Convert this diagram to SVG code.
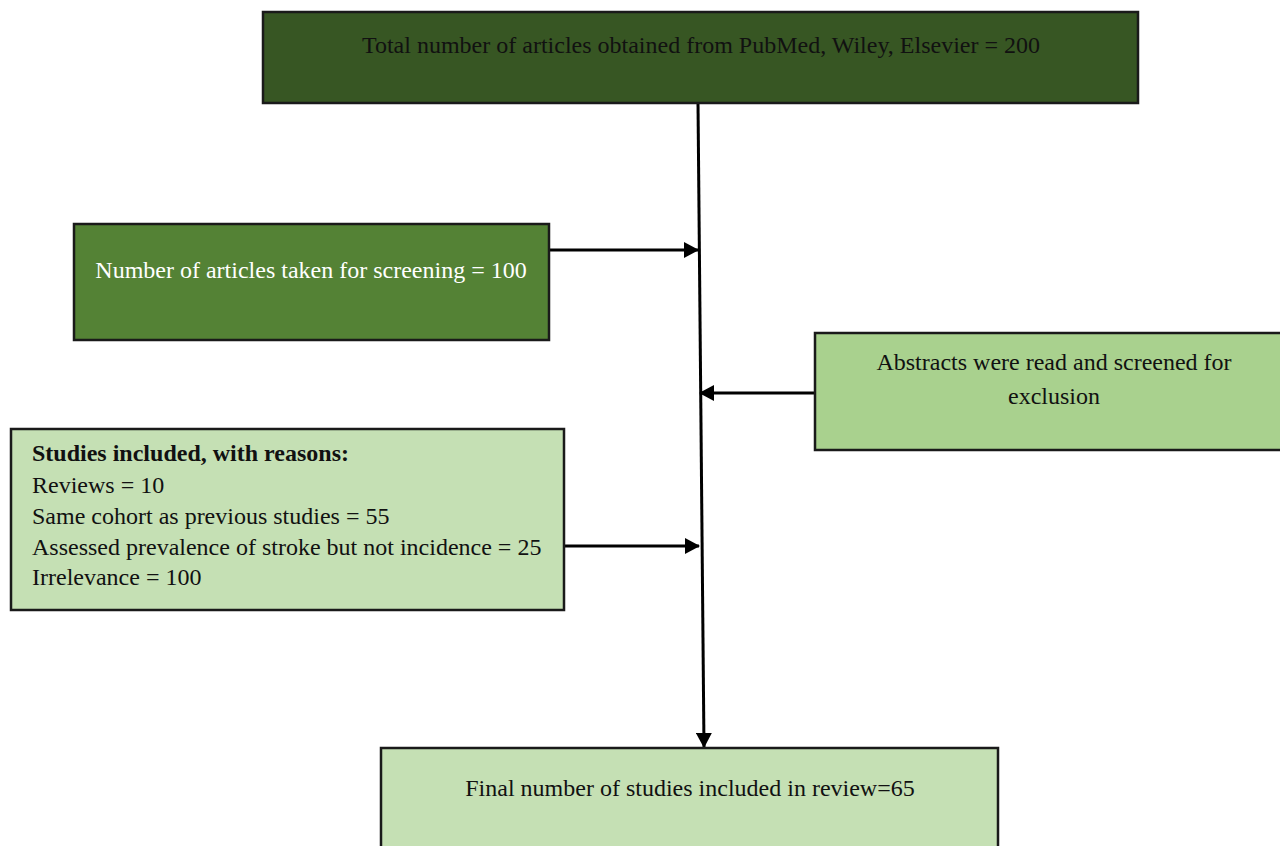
<svg xmlns="http://www.w3.org/2000/svg" width="1280" height="846" viewBox="0 0 1280 846">
<style>
.box{stroke:#1a1a1a;stroke-width:2.5}
.t{font-family:"Liberation Serif","Times New Roman",serif;font-size:24px;fill:#111}
.w{fill:#fff}
.c{text-anchor:middle}
.b{font-weight:bold}
.ln{stroke:#000;stroke-width:3;fill:none}
</style>
<defs>
<marker id="ah2" markerWidth="15" markerHeight="16" refX="14" refY="8" orient="auto" markerUnits="userSpaceOnUse" viewBox="0 0 15 16">
<path d="M0,0 L15,8 L0,16 z" fill="#000"/>
</marker>
</defs>
<rect width="1280" height="846" fill="#fff"/>
<g id="connectors">
<line class="ln" x1="698" y1="103" x2="704" y2="747" marker-end="url(#ah2)"/>
<line class="ln" x1="549" y1="250" x2="698" y2="250" marker-end="url(#ah2)"/>
<line class="ln" x1="815" y1="393" x2="700" y2="393" marker-end="url(#ah2)"/>
<line class="ln" x1="564" y1="546" x2="699" y2="546" marker-end="url(#ah2)"/>
</g>
<g id="total">
<rect class="box" x="263" y="12" width="875" height="91" fill="#375623"/>
<text class="t c" x="701" y="53">Total number of articles obtained from PubMed, Wiley, Elsevier = 200</text>
</g>
<g id="screening">
<rect class="box" x="74" y="224" width="475" height="116" fill="#548235"/>
<text class="t c w" x="311" y="278">Number of articles taken for screening = 100</text>
</g>
<g id="abstracts">
<rect class="box" x="815" y="333" width="470" height="117" fill="#A9D18E"/>
<text class="t c" x="1054" y="370">Abstracts were read and screened for</text>
<text class="t c" x="1054" y="404">exclusion</text>
</g>
<g id="reasons">
<rect class="box" x="11" y="429" width="553" height="181" fill="#C5E0B4"/>
<text class="t b" x="32" y="461">Studies included, with reasons:</text>
<text class="t" x="32" y="493">Reviews = 10</text>
<text class="t" x="32" y="524">Same cohort as previous studies = 55</text>
<text class="t" x="32" y="555">Assessed prevalence of stroke but not incidence = 25</text>
<text class="t" x="32" y="585">Irrelevance = 100</text>
</g>
<g id="final">
<rect class="box" x="381" y="748" width="617" height="110" fill="#C5E0B4"/>
<text class="t c" x="690" y="796">Final number of studies included in review=65</text>
</g>
</svg>
